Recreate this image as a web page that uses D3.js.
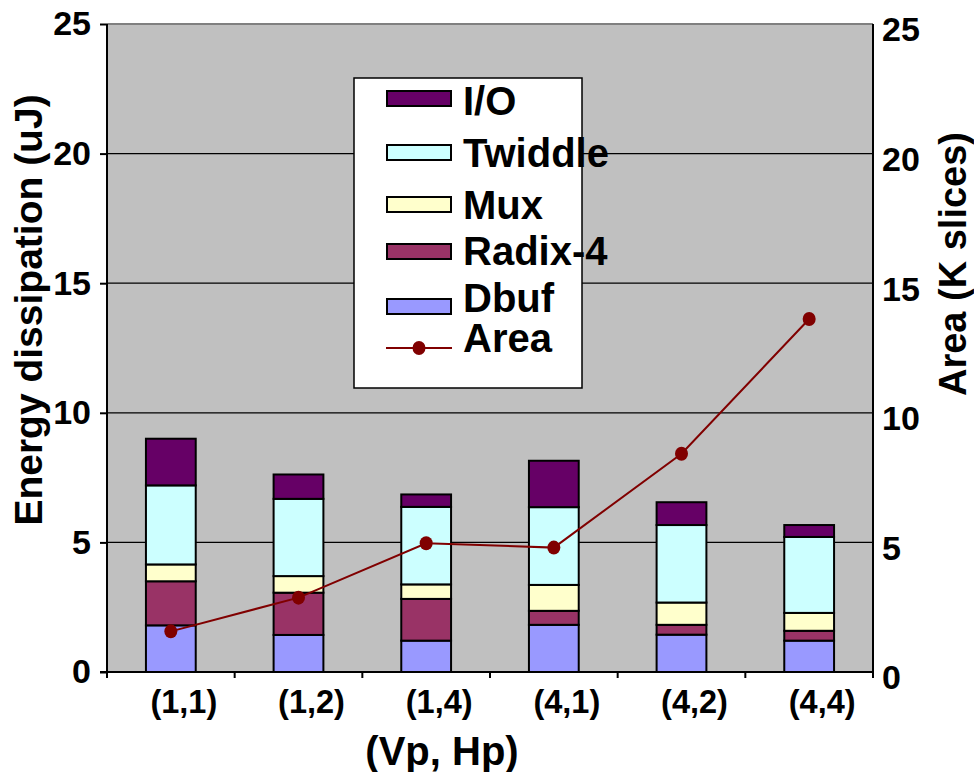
<!DOCTYPE html>
<html>
<head>
<meta charset="utf-8">
<script src="https://cdn.jsdelivr.net/npm/d3@7.9.0/dist/d3.min.js"></script>
<style>
  body { margin: 0; background: #fff; }
  svg { display: block; font-family: "Liberation Sans", Arial, sans-serif; font-weight: bold; }
</style>
</head>
<body>
<svg id="chart" width="974" height="772"></svg>
<script>
// data
const configs = ['(1,1)', '(1,2)', '(1,4)', '(4,1)', '(4,2)', '(4,4)'];
const seriesNames = ['Dbuf', 'Radix-4', 'Mux', 'Twiddle', 'I/O'];
const dbuf    = [1.80, 1.43, 1.21, 1.82, 1.44, 1.21];
const radix4  = [1.70, 1.63, 1.61, 0.54, 0.38, 0.38];
const mux     = [0.65, 0.64, 0.56, 1.00, 0.86, 0.69];
const twiddle = [3.05, 2.98, 2.99, 3.00, 2.99, 2.93];
const io      = [1.80, 0.94, 0.48, 1.79, 0.88, 0.46];
const area    = [1.80, 3.10, 5.20, 5.03, 8.65, 13.85];
const yTicks  = [0, 5, 10, 15, 20, 25];

const colors = {
  'Dbuf': '#9999ff', 'Radix-4': '#993366', 'Mux': '#ffffcc',
  'Twiddle': '#ccffff', 'I/O': '#660066'
};
const lineColor = '#800000';

const svg = d3.select('#chart');
const plotLeft = 107, plotRight = 873, plotTop = 24, plotBottom = 672;

const x = d3.scaleBand().domain(configs).range([plotLeft, plotRight]);
const y = d3.scaleLinear().domain([0, 25]).range([plotBottom, plotTop]);
// the secondary axis sits a few pixels lower in the original
const yR = d3.scaleLinear().domain([0, 25]).range([678, 30]);

// plot background
svg.append('rect')
  .attr('x', plotLeft).attr('y', plotTop)
  .attr('width', plotRight - plotLeft).attr('height', plotBottom - plotTop)
  .attr('fill', '#c0c0c0');

// gridlines
svg.append('g').selectAll('line')
  .data(yTicks.filter(d => d > 0))
  .join('line')
  .attr('x1', plotLeft).attr('x2', plotRight)
  .attr('y1', d => y(d)).attr('y2', d => y(d))
  .attr('stroke', d => d === 25 ? '#808080' : '#000')
  .attr('stroke-width', d => d === 25 ? 2 : 1.2);

// stacked bars
const rows = configs.map((c, i) => ({
  config: c, 'Dbuf': dbuf[i], 'Radix-4': radix4[i], 'Mux': mux[i],
  'Twiddle': twiddle[i], 'I/O': io[i]
}));
const stacked = d3.stack().keys(seriesNames)(rows);
const barW = x.bandwidth() * 0.39;

svg.append('g').selectAll('g')
  .data(stacked)
  .join('g')
  .attr('fill', d => colors[d.key])
  .selectAll('rect')
  .data(d => d)
  .join('rect')
  .attr('x', d => x(d.data.config) + (x.bandwidth() - barW) / 2)
  .attr('y', d => y(d[1]))
  .attr('width', barW)
  .attr('height', d => y(d[0]) - y(d[1]))
  .attr('stroke', '#000')
  .attr('stroke-width', 2);

// area line
const line = d3.line()
  .x((d, i) => x(configs[i]) + x.bandwidth() / 2)
  .y(d => yR(d));
svg.append('path')
  .datum(area)
  .attr('d', line)
  .attr('fill', 'none')
  .attr('stroke', lineColor)
  .attr('stroke-width', 2);
svg.append('g').selectAll('ellipse')
  .data(area)
  .join('ellipse')
  .attr('cx', (d, i) => x(configs[i]) + x.bandwidth() / 2)
  .attr('cy', d => yR(d))
  .attr('rx', 6.5).attr('ry', 7)
  .attr('fill', lineColor);

// axes lines
svg.append('line').attr('x1', plotLeft).attr('x2', plotLeft).attr('y1', plotTop).attr('y2', plotBottom)
  .attr('stroke', '#000').attr('stroke-width', 2);
svg.append('line').attr('x1', plotRight).attr('x2', plotRight).attr('y1', plotTop).attr('y2', plotBottom)
  .attr('stroke', '#000').attr('stroke-width', 2);
svg.append('line').attr('x1', plotLeft - 7).attr('x2', plotRight).attr('y1', plotBottom).attr('y2', plotBottom)
  .attr('stroke', '#000').attr('stroke-width', 2);

// left axis
const yAxis = svg.append('g')
  .attr('transform', `translate(${plotLeft},0)`)
  .call(d3.axisLeft(y).tickValues(yTicks).tickSize(7).tickPadding(9));
yAxis.select('.domain').remove();
yAxis.selectAll('line').attr('stroke', '#000').attr('stroke-width', 2);
yAxis.selectAll('text').attr('font-size', 34).attr('fill', '#000');
yAxis.attr('font-family', null).attr('font-size', null);

// right axis
const yAxisR = svg.append('g')
  .attr('transform', `translate(${plotRight},0)`)
  .call(d3.axisRight(yR).tickValues(yTicks).tickSize(0).tickPadding(9));
yAxisR.select('.domain').remove();
yAxisR.selectAll('text').attr('font-size', 34).attr('fill', '#000');
yAxisR.attr('font-family', null).attr('font-size', null);

// category ticks on the boundaries
const bounds = configs.map(c => x(c)).concat([plotRight]);
svg.append('g').selectAll('line')
  .data(bounds)
  .join('line')
  .attr('x1', d => d).attr('x2', d => d)
  .attr('y1', plotBottom).attr('y2', plotBottom + 6)
  .attr('stroke', '#000').attr('stroke-width', 2);

// category labels sit a little right of the bar centres in the original
svg.append('g').selectAll('text')
  .data(configs)
  .join('text')
  .attr('x', d => x(d) + x.bandwidth() / 2 + 13)
  .attr('y', 713)
  .attr('text-anchor', 'middle')
  .attr('font-size', 32.5)
  .text(d => d);

// axis titles
svg.append('text')
  .attr('x', 442).attr('y', 765)
  .attr('text-anchor', 'middle')
  .attr('font-size', 40)
  .text('(Vp, Hp)');

svg.append('text')
  .attr('transform', 'translate(42,310) rotate(-90)')
  .attr('text-anchor', 'middle')
  .attr('font-size', 39)
  .text('Energy dissipation (uJ)');

svg.append('text')
  .attr('transform', 'translate(966,264) rotate(-90)')
  .attr('text-anchor', 'middle')
  .attr('font-size', 38)
  .text('Area (K slices)');

// legend
const legendItems = ['I/O', 'Twiddle', 'Mux', 'Radix-4', 'Dbuf', 'Area'];
const legendRowY = [98, 152, 204, 251, 306, 348];
const legendTextY = [115, 167, 219, 265, 312, 352];
const legend = svg.append('g');
legend.append('rect')
  .attr('x', 354).attr('y', 78).attr('width', 228).attr('height', 310)
  .attr('fill', '#fff').attr('stroke', '#000').attr('stroke-width', 1.5);

legendItems.forEach((name, i) => {
  const cy = legendRowY[i];
  if (name === 'Area') {
    legend.append('line')
      .attr('x1', 386).attr('x2', 452).attr('y1', cy).attr('y2', cy)
      .attr('stroke', lineColor).attr('stroke-width', 2);
    legend.append('ellipse')
      .attr('cx', 419).attr('cy', cy).attr('rx', 6.5).attr('ry', 7)
      .attr('fill', lineColor);
  } else {
    legend.append('rect')
      .attr('x', 387).attr('y', cy - 7).attr('width', 64).attr('height', 15)
      .attr('fill', colors[name]).attr('stroke', '#000').attr('stroke-width', 2);
  }
  legend.append('text')
    .attr('x', 463).attr('y', legendTextY[i])
    .attr('font-size', 40)
    .text(name);
});
</script>
</body>
</html>
